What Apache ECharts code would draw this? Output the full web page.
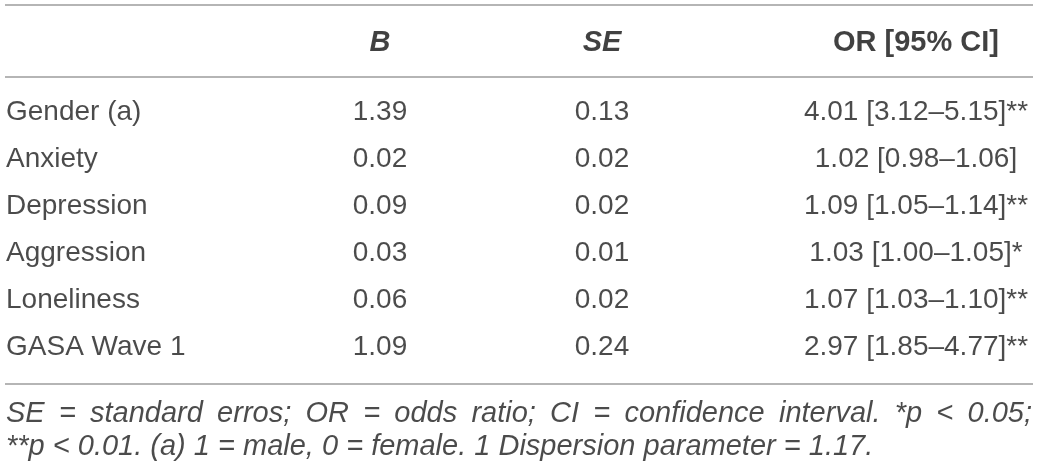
<!DOCTYPE html>
<html><head><meta charset="utf-8">
<script src="https://cdn.jsdelivr.net/npm/echarts@6/dist/echarts.min.js"></script>
<style>html,body{margin:0;padding:0;background:#fff}#c{width:1040px;height:471px}</style>
</head><body><div id="c"></div>
<script>
// ---- data ----
const headers = ['', 'B', 'SE', 'OR [95% CI]'];
const variables = ['Gender (a)', 'Anxiety', 'Depression', 'Aggression', 'Loneliness', 'GASA Wave 1'];
const bValues = ['1.39', '0.02', '0.09', '0.03', '0.06', '1.09'];
const seValues = ['0.13', '0.02', '0.02', '0.01', '0.02', '0.24'];
const orValues = ['4.01 [3.12–5.15]**', '1.02 [0.98–1.06]', '1.09 [1.05–1.14]**', '1.03 [1.00–1.05]*', '1.07 [1.03–1.10]**', '2.97 [1.85–4.77]**'];
const footnoteLines = [
  'SE = standard erros; OR = odds ratio; CI = confidence interval. *p < 0.05;',
  '**p < 0.01. (a) 1 = male, 0 = female. 1 Dispersion parameter = 1.17.'
];

// ---- layout (pixels) ----
const W = 1040, H = 471;
const L = {
  rowY0: 112, rowStep: 47, headerY: 43,
  rules: [5, 77, 384], ruleX: [5, 1033],
  footY: [414, 447], footX: [6, 1032],
  colX: [6, 380, 602, 916], colAlign: ['left', 'center', 'center', 'center'],
  font: 'Liberation Sans', size: 28, headSize: 29, footSize: 29,
  color: '#1e1e1e', ruleColor: '#9c9c9c'
};
const toRow = px => (px - L.rowY0) / L.rowStep;

const columns = [variables, bValues, seValues, orValues];

const series = [];
columns.forEach((col, c) => {
  series.push({
    type: 'scatter', symbolSize: 0, silent: true, clip: false,
    data: col.map((t, r) => ({ value: [L.colX[c], r], name: t })),
    label: {
      show: true, position: 'inside', formatter: p => p.name,
      align: L.colAlign[c], verticalAlign: 'middle',
      fontFamily: L.font, fontSize: L.size, color: L.color
    }
  });
});

// header row
const headerFmt = ['', '{bi|B}', '{bi|SE}', '{b|OR [95% CI]}'];
series.push({
  type: 'scatter', symbolSize: 0, silent: true, clip: false,
  data: headers.map((h, c) => ({ value: [L.colX[c], toRow(L.headerY)], name: h, fmt: headerFmt[c] }))
    .filter(d => d.name !== ''),
  label: {
    show: true, position: 'inside',
    formatter: p => p.data.fmt,
    verticalAlign: 'middle', align: 'center',
    rich: {
      bi: { fontFamily: L.font, fontSize: L.headSize, fontWeight: 'bold', fontStyle: 'italic', color: '#111' },
      b: { fontFamily: L.font, fontSize: L.headSize, fontWeight: 'bold', color: '#111' }
    }
  }
});

// footnotes: first line justified across the table width
const ctx = document.createElement('canvas').getContext('2d');
ctx.font = 'italic ' + L.footSize + 'px "' + L.font + '"';
const footData = [];
footnoteLines.forEach((line, i) => {
  const y = toRow(L.footY[i]);
  if (i === 0) {
    const words = line.split(' ');
    const widths = words.map(w => ctx.measureText(w).width);
    const total = widths.reduce((a, b) => a + b, 0);
    const gap = (L.footX[1] - L.footX[0] - total) / (words.length - 1);
    let x = L.footX[0];
    words.forEach((w, k) => { footData.push({ value: [x, y], name: w }); x += widths[k] + gap; });
  } else {
    footData.push({ value: [L.footX[0], y], name: line });
  }
});
series.push({
  type: 'scatter', symbolSize: 0, silent: true, clip: false,
  data: footData,
  label: {
    show: true, position: 'inside', formatter: p => p.name,
    align: 'left', verticalAlign: 'middle',
    fontFamily: L.font, fontSize: L.footSize, fontStyle: 'italic', color: L.color
  }
});

// horizontal rules
series.push({
  type: 'line', data: [], silent: true,
  markLine: {
    silent: true, symbol: 'none', animation: false,
    label: { show: false },
    lineStyle: { color: L.ruleColor, width: 1.5, type: 'solid' },
    data: L.rules.map(y => [{ coord: [L.ruleX[0], toRow(y)] }, { coord: [L.ruleX[1], toRow(y)] }])
  }
});

const chart = echarts.init(document.getElementById('c'), null, { renderer: 'canvas' });
chart.setOption({
  animation: false,
  backgroundColor: '#fff',
  grid: { left: 0, right: 0, top: 0, bottom: 0 },
  xAxis: { type: 'value', min: 0, max: W, show: false },
  yAxis: { type: 'value', inverse: true, min: toRow(0), max: toRow(H), show: false },
  series
});
</script></body></html>
